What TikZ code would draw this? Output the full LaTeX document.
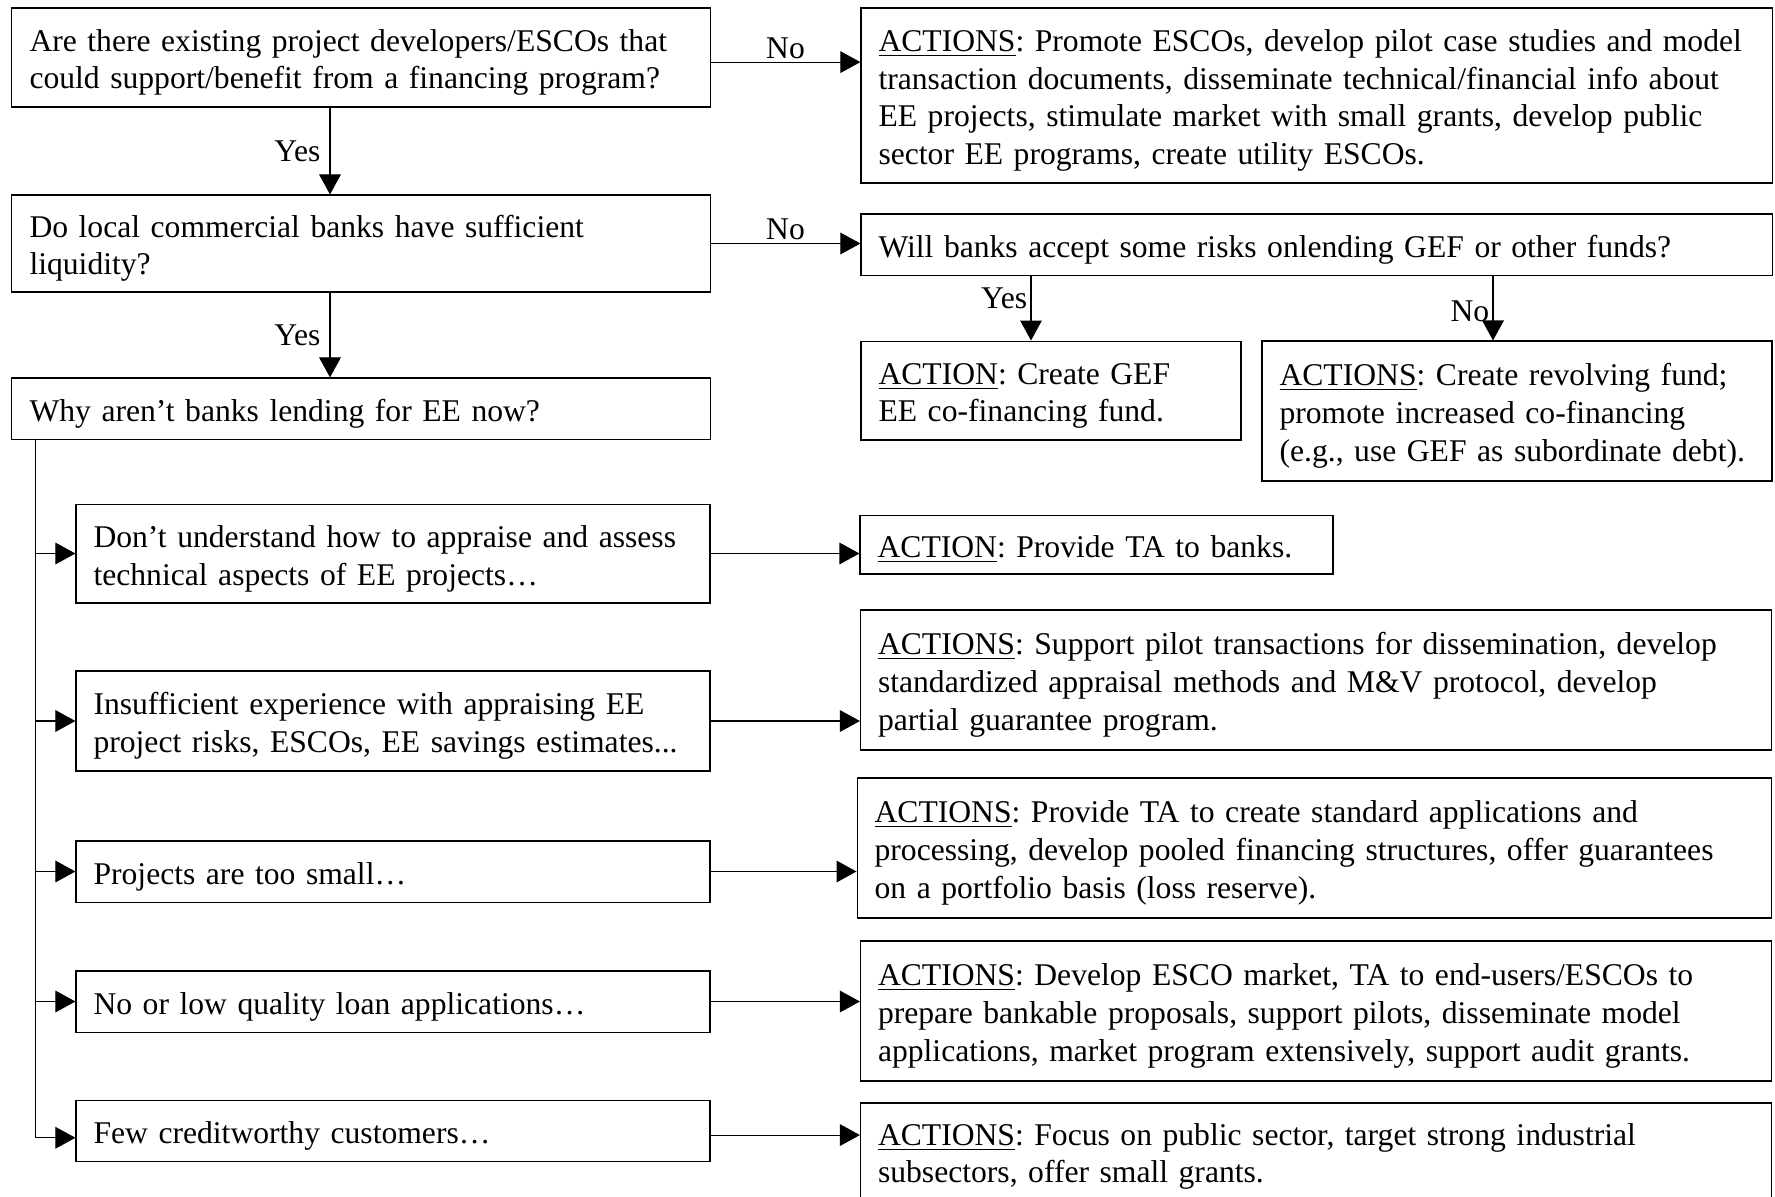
\documentclass[tikz,border=0pt]{standalone}
\usepackage{fontspec}
\setmainfont{Liberation Serif}
\usetikzlibrary{arrows.meta}
\frenchspacing
\tikzset{
	x=0.37pt, y=-0.37pt, % one unit is one pixel of the chart
	>={Triangle[length=7.4pt,width=8pt]}, % solid arrow heads
	line width=0.7pt, % lines of boxes and arrows
	every node/.style={font=\fontsize{11.7}{14}\selectfont}, % text of all nodes
	box/.style 2 args={draw, align=left, inner xsep=6.5pt, text width=#1, minimum height=#2,
		execute at begin node={\rule{0pt}{11.8pt}}}, % framed text
	lbl/.style={inner sep=1.2pt} % Yes/No close to the arrows
}

\begin{document}
\begin{tikzpicture}
	\useasboundingbox (0,0) rectangle (1775,1197);
	% questions
	\node[box={245.3pt}{36.6pt}] (q1) at (361,57.5) {Are there existing project developers/ESCOs that\\could support/benefit from a financing program?};
	\node[box={245.3pt}{35.9pt}] (q2) at (361,243.5) {Do local commercial banks have sufficient\\liquidity?};
	\node[box={245.3pt}{22.6pt}] (q3) at (361,408.5) {Why aren’t banks lending for EE now?};
	\node[box={324.1pt}{22.6pt}] (q4) at (1316.5,244.5) {Will banks accept some risks onlending GEF or other funds?};
	% reasons
	\node[box={221.6pt}{36.6pt}] (b1) at (393,553.5) {Don’t understand how to appraise and assess\\technical aspects of EE projects…};
	\node[box={221.6pt}{37pt}] (b2) at (393,721) {Insufficient experience with appraising EE\\project risks, ESCOs, EE savings estimates...};
	\node[box={221.6pt}{22.6pt}] (b3) at (393,871.5) {Projects are too small…};
	\node[box={221.6pt}{22.6pt}] (b4) at (393,1001.5) {No or low quality loan applications…};
	\node[box={221.6pt}{22.6pt}] (b5) at (393,1131) {Few creditworthy customers…};
	% actions
	\node[box={324.1pt}{64.75pt}] (a1) at (1316.5,95.5) {\underline{ACTIONS}: Promote ESCOs, develop pilot case studies and model\\transaction documents, disseminate technical/financial info about\\EE projects, stimulate market with small grants, develop public\\sector EE programs, create utility ESCOs.};
	\node[box={127.6pt}{36.6pt}] (a2) at (1051,390.5) {\underline{ACTION}: Create GEF\\EE co-financing fund.};
	\node[box={175.7pt}{51.8pt}] (a3) at (1517,411) {\underline{ACTIONS}: Create revolving fund;\\promote increased co-financing\\(e.g., use GEF as subordinate debt).};
	\node[box={162pt}{21.8pt}] (a4) at (1096.5,544.5) {\underline{ACTION}: Provide TA to banks.};
	\node[box={324.1pt}{51.8pt}] (a5) at (1316,680) {\underline{ACTIONS}: Support pilot transactions for dissemination, develop\\standardized appraisal methods and M\&V protocol, develop\\partial guarantee program.};
	\node[box={325.5pt}{51.8pt}] (a6) at (1314.5,848) {\underline{ACTIONS}: Provide TA to create standard applications and\\processing, develop pooled financing structures, offer guarantees\\on a portfolio basis (loss reserve).};
	\node[box={324.1pt}{51.8pt}] (a7) at (1316,1011) {\underline{ACTIONS}: Develop ESCO market, TA to end-users/ESCOs to\\prepare bankable proposals, support pilots, disseminate model\\applications, market program extensively, support audit grants.};
	\node[box={324.1pt}{35.9pt}] (a8) at (1316,1151.5) {\underline{ACTIONS}: Focus on public sector, target strong industrial\\subsectors, offer small grants.};
	% columns of the vertical arrows
	\coordinate (c1) at (330,0);
	\coordinate (c2) at (1031,0);
	\coordinate (c3) at (1493,0);
	\coordinate (t) at (35.6,0);
	\path ([yshift=-1.7pt]q1.east) edge[->] node[above, lbl]{No} ([yshift=-1.7pt]q1.east -| a1.west)
		(q2.east) edge[->] node[above, lbl]{No} (q2.east -| q4.west)
		(q1.south -| c1) edge[->] node[left]{Yes} (q2.north -| c1)
		(q2.south -| c1) edge[->] node[left]{Yes} (q3.north -| c1)
		(q4.south -| c2) edge[->] node[pos=0.35, left, lbl]{Yes} (a2.north -| c2)
		(q4.south -| c3) edge[->] node[pos=0.55, left, lbl]{No} (a3.north -| c3);
	\draw[->] (q3.south -| t) |- ([yshift=-2.5pt]b5.west);
	\foreach \b in {b1,b2,b3,b4}
		\draw[->] (\b.west -| t) -- (\b.west);
	\foreach \b/\a in {b1/a4,b2/a5,b3/a6,b4/a7}
		\draw[->] (\b.east) -- (\b.east -| \a.west);
	\draw[->] ([yshift=-1.5pt]b5.east) -- ([yshift=-1.5pt]b5.east -| a8.west);
\end{tikzpicture}
\end{document}
